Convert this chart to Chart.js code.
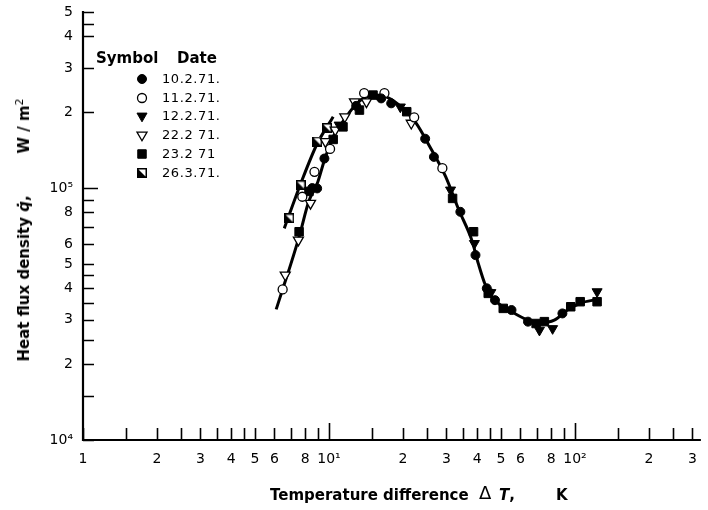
<!DOCTYPE html>
<html><head><meta charset="utf-8">
<script src="https://cdn.jsdelivr.net/npm/chart.js@4.4.1/dist/chart.umd.min.js"></script>
<style>
html,body{margin:0;padding:0;background:#fff;}
#wrap{position:relative;width:708px;height:510px;overflow:hidden;background:#fff;}
#c{position:absolute;left:0;top:0;}
.xt{position:absolute;top:486px;font:bold 15px "DejaVu Sans";white-space:pre;color:#000;line-height:18px;}
.yt{position:absolute;left:22px;top:230px;transform:translate(-50%,-50%) rotate(-90deg);font:bold 15px "DejaVu Sans";white-space:pre;color:#000;line-height:18px;}
.it{font-style:italic;}
</style></head>
<body>
<div id="wrap">
<canvas id="c" width="708" height="510"></canvas>
<div class="xt" style="left:270px">Temperature difference</div>
<div class="xt" style="left:479px;font-weight:normal;font-size:18px;top:484px">Δ</div>
<div class="xt" style="left:499px"><span class="it">T</span>,</div>
<div class="xt" style="left:556px">K</div>
<div class="yt">Heat flux density <span class="it">q̇</span>,        W / m<sup style="font-size:11px;font-weight:normal">2</sup></div>
</div>
<script>
// ---- tick definitions ----
const xTickValues = [1,1.5,2,2.5,3,3.5,4,4.5,5,6,7,8,9,10,15,20,25,30,35,40,45,50,60,70,80,90,100,150,200,250,300];
const xTickLabels = ['1','','2','','3','','4','','5','6','','8','','10¹','','2','','3','','4','','5','6','','8','','10²','','2','','3'];
const yTickValues = [1e4,1.5e4,2e4,2.5e4,3e4,3.5e4,4e4,4.5e4,5e4,6e4,7e4,8e4,9e4,1e5,2e5,3e5,4e5,4.5e5,5e5];
const yTickLabels = ['10⁴','','2','','3','','4','','5','6','','8','','10⁵','2','3','4','','5'];

// ---- fitted curves ----
const fitX = [6.1,6.5,7.0,7.56,8.29,8.95,9.58,10.4,11.5,12.6,13.8,15.6,17.1,20.0,22.6,25.5,29.8,33.7,38.1,40.5,43.1,46.0,50.0,55.2,64.4,72.8,82.4,93.1,105,124];
const fitY = [33000,40000,50000,64000,89000,104000,129000,160000,186000,210000,227000,234000,230000,207000,181000,148000,111000,82000,62000,50000,41500,37000,34200,32300,29900,29200,29900,32800,34900,36200];
const leftX = [6.58,7.67,8.95,10.4];
const leftY = [69200,104000,150000,192000];

// ---- measured series ----
const seriesLabels = ['10.2.71.','11.2.71.','12.2.71.','22.2 71.','23.2 71','26.3.71.'];
const s1X = [8.55,8.95,9.58,12.9,16.3,17.9,24.6,26.7,34.2,39.4,43.8,47.3,55.2,64.4,88.9];
const s1Y = [100000,99700,131000,212000,227000,217000,157000,133000,80500,54200,40000,35900,32800,29500,31800];
const s2X = [6.48,7.79,8.73,10.1,13.9,16.8,22.2,28.9];
const s2Y = [39600,92400,116000,143000,238000,238000,191000,120000];
const s3X = [11.0,19.5,31.2,39.0,45.5,71.7,81.1,123];
const s3Y = [178000,210000,98300,60300,38500,27300,27700,38800];
const s4X = [6.64,7.51,8.41,9.67,10.6,11.6,12.7,14.2,21.6];
const s4Y = [45200,62200,87000,153000,170000,192000,220000,220000,181000];
const s5X = [7.56,8.29,10.4,11.4,13.3,15.1,20.7,31.8,38.7,44.4,51.1,69.5,75.1,96.1,105,123];
const s5Y = [67100,97000,156000,175000,204000,234000,201000,91000,67100,38200,33300,29000,29500,33800,35400,35400];
const s6X = [6.89,7.67,8.95,9.8];
const s6Y = [75800,102600,153000,173000];

function pts(xs, ys){ return xs.map((x,i)=>({x:x, y:ys[i]})); }

function halfSquare(){
  const c = document.createElement('canvas'); c.width = 10; c.height = 10;
  const g = c.getContext('2d');
  g.fillStyle = '#fff'; g.fillRect(0,0,10,10);
  g.fillStyle = '#000'; g.beginPath(); g.moveTo(0,0); g.lineTo(0,10); g.lineTo(10,10); g.closePath(); g.fill();
  g.strokeStyle = '#000'; g.lineWidth = 1.5; g.strokeRect(0.75,0.75,8.5,8.5);
  return c;
}
const hsImg = halfSquare();

const markerStyles = [
  {pointStyle:'circle', pointRadius:4.5, backgroundColor:'#000', borderColor:'#000', borderWidth:1, rotation:0},
  {pointStyle:'circle', pointRadius:4.5, backgroundColor:'#fff', borderColor:'#000', borderWidth:1.3, rotation:0},
  {pointStyle:'triangle', pointRadius:5.8, backgroundColor:'#000', borderColor:'#000', borderWidth:1, rotation:180},
  {pointStyle:'triangle', pointRadius:5.8, backgroundColor:'#fff', borderColor:'#000', borderWidth:1.3, rotation:180},
  {pointStyle:'rect', pointRadius:6, backgroundColor:'#000', borderColor:'#000', borderWidth:1, rotation:0},
  {pointStyle:hsImg, pointRadius:5, backgroundColor:'#000', borderColor:'#000', borderWidth:1, rotation:0}
];
const seriesData = [[s1X,s1Y],[s2X,s2Y],[s3X,s3Y],[s4X,s4Y],[s5X,s5Y],[s6X,s6Y]];

const datasets = seriesData.map((d,i)=>Object.assign({
  label: seriesLabels[i], data: pts(d[0], d[1]), showLine:false, order: 1
}, markerStyles[i]));
datasets.push({label:'fit', data: pts(fitX, fitY), showLine:true, borderColor:'#000', borderWidth:3, pointRadius:0, cubicInterpolationMode:'monotone', fill:false, order: 10});
datasets.push({label:'left', data: pts(leftX, leftY), showLine:true, borderColor:'#000', borderWidth:3, pointRadius:0, tension:0.3, fill:false, order: 10});

function drawMarker(ctx, i, x, y){
  const s = markerStyles[i];
  ctx.save();
  ctx.fillStyle = s.backgroundColor; ctx.strokeStyle = s.borderColor; ctx.lineWidth = s.borderWidth;
  ctx.beginPath();
  if (i === 0 || i === 1) { ctx.arc(x, y, s.pointRadius, 0, Math.PI*2); ctx.fill(); ctx.stroke(); }
  else if (i === 2 || i === 3) {
    const r = s.pointRadius;
    ctx.moveTo(x - r*0.866, y - r/2); ctx.lineTo(x + r*0.866, y - r/2); ctx.lineTo(x, y + r); ctx.closePath(); ctx.fill(); ctx.stroke();
  } else if (i === 4) { const h = 6*Math.SQRT1_2; ctx.rect(x-h, y-h, 2*h, 2*h); ctx.fill(); ctx.stroke(); }
  else { ctx.drawImage(hsImg, x-5, y-5); }
  ctx.restore();
}

const axesPlugin = {
  id: 'axesPlugin',
  afterDraw(chart){
    const ctx = chart.ctx, xs = chart.scales.x, ys = chart.scales.y, a = chart.chartArea;
    ctx.save();
    ctx.strokeStyle = '#000';
    ctx.lineWidth = 2.2;
    ctx.beginPath();
    ctx.moveTo(a.left, ys.getPixelForValue(yTickValues[yTickValues.length-1]) - 1);
    ctx.lineTo(a.left, a.bottom);
    ctx.lineTo(a.right, a.bottom);
    ctx.stroke();
    ctx.lineWidth = 1.6;
    ctx.beginPath();
    xTickValues.forEach(v => {
      const p = Math.round(xs.getPixelForValue(v)) + 0.5;
      const len = (v === 10 || v === 100) ? 17 : 12;
      ctx.moveTo(p, a.bottom); ctx.lineTo(p, a.bottom - len);
    });
    yTickValues.forEach(v => {
      const p = Math.round(ys.getPixelForValue(v)) + 0.5;
      const len = (v === 1e5) ? 15 : 11;
      ctx.moveTo(a.left, p); ctx.lineTo(a.left + len, p);
    });
    ctx.stroke();
    // legend
    ctx.fillStyle = '#000';
    ctx.textBaseline = 'alphabetic';
    ctx.font = 'bold 15px "DejaVu Sans"';
    ctx.fillText('Symbol', 96, 63);
    ctx.fillText('Date', 177, 63);
    ctx.font = '13px "DejaVu Sans"';
    try { ctx.letterSpacing = '0.6px'; } catch(e) {}
    ctx.textBaseline = 'middle';
    const rowsY = [79, 98, 116, 135, 154, 173];
    seriesLabels.forEach((lab, i) => {
      drawMarker(ctx, i, 142, rowsY[i]);
      ctx.fillText(lab, 162, rowsY[i] + 1);
    });
    ctx.restore();
  }
};

new Chart(document.getElementById('c'), {
  type: 'scatter',
  data: { datasets: datasets },
  options: {
    responsive: false, animation: false, devicePixelRatio: 1, events: [],
    layout: { padding: { top: 12, right: 0, left: 0, bottom: 0 } },
    plugins: { legend: { display: false }, tooltip: { enabled: false } },
    scales: {
      x: {
        type: 'logarithmic', min: 1, max: 325,
        grid: { display: false, drawTicks: false }, border: { display: false },
        afterBuildTicks: s => { s.ticks = xTickValues.map(v => ({ value: v })); },
        ticks: { autoSkip: false, maxRotation: 0, minRotation: 0, padding: 11, color: '#000',
          font: { family: 'DejaVu Sans', size: 14 }, callback: (v, i) => xTickLabels[i] },
        afterFit: s => { s.height = 70; s.paddingLeft = 0; s.paddingRight = 0; }
      },
      y: {
        type: 'logarithmic', min: 1e4, max: 5e5,
        grid: { display: false, drawTicks: false }, border: { display: false },
        afterBuildTicks: s => { s.ticks = yTickValues.map(v => ({ value: v })); },
        ticks: { autoSkip: false, padding: 10, color: '#000',
          font: { family: 'DejaVu Sans', size: 14 }, callback: (v, i) => yTickLabels[i] },
        afterFit: s => { s.width = 83; s.paddingTop = 0; s.paddingBottom = 0; }
      }
    }
  },
  plugins: [axesPlugin]
});
</script>
</body></html>
